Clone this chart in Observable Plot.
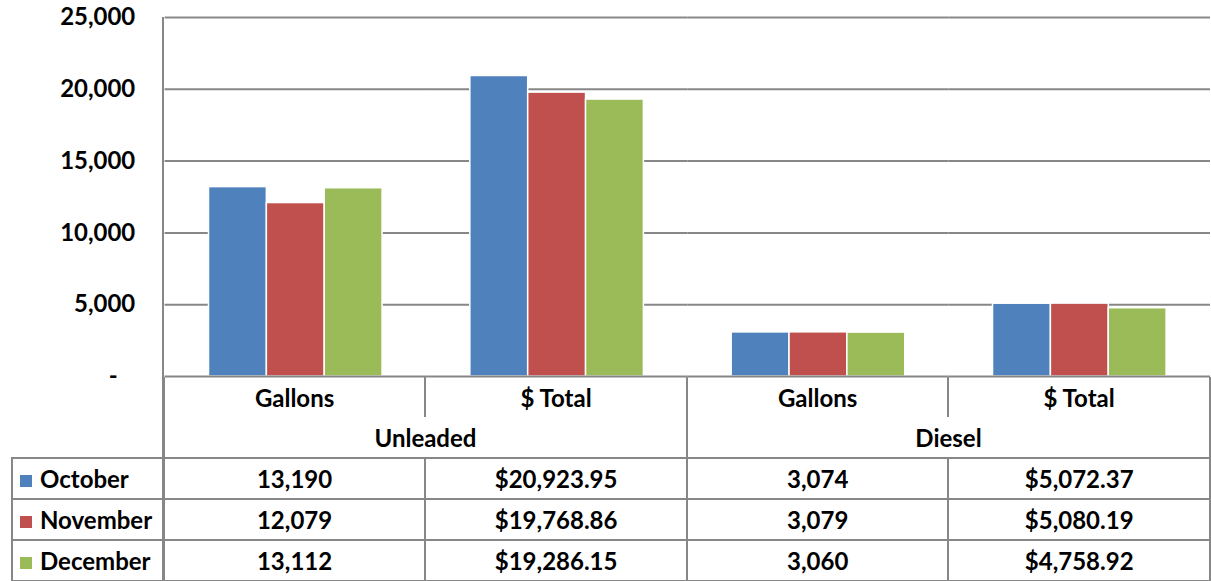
<!DOCTYPE html>
<html>
<head>
<meta charset="utf-8">
<script src="https://cdn.jsdelivr.net/npm/d3@7"></script>
<script src="https://cdn.jsdelivr.net/npm/@observablehq/plot@0.6"></script>
<style>
  html, body { margin: 0; padding: 0; background: #fff; }
  #wrap { position: relative; width: 1211px; height: 581px; overflow: hidden; font-family: Lato, "Open Sans", sans-serif; font-weight: 700; }
  #chart { position: absolute; left: 0; top: 0; }
  #axisline { position: absolute; left: 162px; top: 17px; width: 2px; height: 564px; background: #878787; }
  table { position: absolute; left: 11px; top: 377px; border-collapse: collapse; table-layout: fixed; font-size: 24px; color: #000; }
  td { height: 39px; padding: 0; text-align: center; vertical-align: middle; border: 2px solid #878787; white-space: nowrap; }
  tr.h1 td, tr.h2 td { height: 40px; }
  td.blank { border: none; border-right: 2px solid #878787; }
  tr.h1 td { border-top: none; border-bottom: none; }
  tr.h2 td { border-top: none; }
  tr.h1 td.blank, tr.h2 td.blank { border-left: none; border-bottom: none; }
  td.leg { text-align: left; padding-left: 7px; }
  .sw { display: inline-block; width: 12px; height: 12px; margin-right: 8px; vertical-align: 1px; }
</style>
</head>
<body>
<div id="wrap">
  <div id="chart"></div>
  <div id="axisline"></div>
</div>
<script>
const months = ["October", "November", "December"];
const colors = ["#4F81BD", "#C0504D", "#9BBB59"];
const fuels = ["Unleaded", "Diesel"];
const measures = ["Gallons", "$ Total"];
const unleadedGallons = [13190, 12079, 13112];
const unleadedTotal = [20923.95, 19768.86, 19286.15];
const dieselGallons = [3074, 3079, 3060];
const dieselTotal = [5072.37, 5080.19, 4758.92];
const yTicks = [0, 5000, 10000, 15000, 20000, 25000];

const series = [
  {fuel: "Unleaded", measure: "Gallons", values: unleadedGallons},
  {fuel: "Unleaded", measure: "$ Total", values: unleadedTotal},
  {fuel: "Diesel", measure: "Gallons", values: dieselGallons},
  {fuel: "Diesel", measure: "$ Total", values: dieselTotal}
];
const cats = series.map(s => s.fuel + "|" + s.measure);
const data = series.flatMap(s => s.values.map((v, i) => ({cat: s.fuel + "|" + s.measure, month: months[i], value: v})));

const fmtInt = d3.format(",");
const fmtMoney = d3.format("$,.2f");

const chart = Plot.plot({
  width: 1214,
  height: 400,
  marginLeft: 163,
  marginRight: 0,
  marginTop: 17,
  marginBottom: 23,
  style: {fontFamily: "Lato, 'Open Sans', sans-serif", fontWeight: 700, fontSize: "24px", color: "#000", background: "white"},
  fx: {domain: cats, padding: 0, axis: null},
  x: {domain: months, paddingOuter: 0.758, paddingInner: 0, axis: null},
  y: {domain: [0, 25000], label: null},
  color: {domain: months, range: colors},
  marks: [
    Plot.ruleY(yTicks.slice(1), {stroke: "#878787", strokeWidth: 2, strokeOpacity: 1}),
    Plot.barY(data, {fx: "cat", x: "month", y: "value", fill: "month", stroke: "white", strokeWidth: 1.5,
      style: "filter: drop-shadow(1px 1px 1px rgba(0,0,0,0.25))"}),
    Plot.ruleY([0], {stroke: "#878787", strokeWidth: 2, strokeOpacity: 1}),
    Plot.axisY({ticks: yTicks, tickSize: 0, tickPadding: 30, fontSize: 24, label: null,
      tickFormat: d => d === 0 ? "-\u00a0\u00a0\u00a0" : fmtInt(d)})
  ]
});
document.getElementById("chart").appendChild(chart);

// data table below the chart
const table = document.createElement("table");
const colgroup = document.createElement("colgroup");
[152, 263, 263, 263, 263].forEach(w => { const c = document.createElement("col"); c.style.width = w + "px"; colgroup.appendChild(c); });
table.appendChild(colgroup);

const r1 = table.insertRow(); r1.className = "h1";
const b1 = r1.insertCell(); b1.className = "blank";
series.forEach(s => { const c = r1.insertCell(); c.textContent = s.measure; });

const r2 = table.insertRow(); r2.className = "h2";
const b2 = r2.insertCell(); b2.className = "blank";
fuels.forEach(f => { const c = r2.insertCell(); c.colSpan = 2; c.textContent = f; });

months.forEach((m, i) => {
  const r = table.insertRow();
  const l = r.insertCell(); l.className = "leg";
  const sw = document.createElement("span"); sw.className = "sw"; sw.style.background = colors[i];
  l.appendChild(sw); l.appendChild(document.createTextNode(m));
  series.forEach(s => {
    const c = r.insertCell();
    c.textContent = s.measure === "Gallons" ? fmtInt(s.values[i]) : fmtMoney(s.values[i]);
  });
});
document.getElementById("wrap").appendChild(table);
</script>
</body>
</html>
